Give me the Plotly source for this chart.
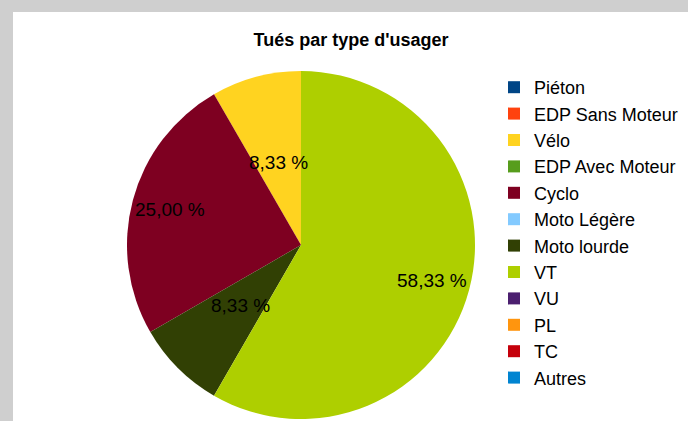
import math
import plotly.graph_objects as go

categories = ["Piéton", "EDP Sans Moteur", "Vélo", "EDP Avec Moteur", "Cyclo",
              "Moto Légère", "Moto lourde", "VT", "VU", "PL", "TC", "Autres"]
values = [0, 0, 1, 0, 3, 0, 1, 7, 0, 0, 0, 0]
colors = ["#004586", "#ff420e", "#ffd320", "#579d1c", "#7e0021", "#83caff",
          "#314004", "#aecf00", "#4b1f6f", "#ff950e", "#c5000b", "#0084d1"]
title_text = "Tués par type d'usager"

total = sum(values)

W, H = 688, 421
FONT = "Liberation Sans"

# pie placement (pixels)
CX, CY, R = 301, 245, 174
dom_x = [(CX - R) / W, (CX + R) / W]
dom_y = [1 - (CY + R) / H, 1 - (CY - R) / H]

fig = go.Figure(go.Pie(
    labels=categories,
    values=values,
    textinfo="none",
    marker=dict(colors=colors, line=dict(width=0)),
    sort=False,
    direction="counterclockwise",
    rotation=0,
    hoverinfo="label+percent",
    domain=dict(x=dom_x, y=dom_y),
))

# percentage labels placed LibreOffice-style (mid-angle of each slice)
annotations = []
cum = 0
for lab, v in zip(categories, values):
    if v > 0:
        share = v / total
        mid = math.radians(90 + 360 * (cum + v / 2) / total)
        frac = 0.49 if share < 0.1 else 0.78
        x = (CX + frac * R * math.cos(mid)) / W
        y = 1 - (CY - frac * R * math.sin(mid)) / H
        annotations.append(dict(
            x=x, y=y, xref="paper", yref="paper", showarrow=False,
            text=("%.2f %%" % (share * 100)).replace(".", ","),
            font=dict(family=FONT, size=19, color="black"),
            xanchor="center", yanchor="middle"))
    cum += v

fig.update_layout(
    width=W, height=H, autosize=False,
    margin=dict(l=0, r=0, t=0, b=0),
    paper_bgcolor="#cfcfcf",
    title=dict(text="<b>" + title_text + "</b>", x=351 / W, xanchor="center",
               y=1 - 40 / H, yanchor="middle", yref="container", xref="container",
               font=dict(family=FONT, size=18, color="black")),
    legend=dict(x=494 / W, xanchor="left", y=1 - 69 / H, yanchor="top",
                font=dict(family=FONT, size=18, color="black"),
                bgcolor="rgba(0,0,0,0)", traceorder="normal"),
    annotations=annotations,
    shapes=[dict(type="rect", xref="paper", yref="paper",
                 x0=13 / W, x1=1.01, y0=-0.01, y1=1 - 12 / H,
                 fillcolor="white", line=dict(width=0), layer="below")],
)

fig.write_html("out.html", config={"displayModeBar": False},
               post_script="document.body.style.margin='0';document.body.style.overflow='hidden';")
